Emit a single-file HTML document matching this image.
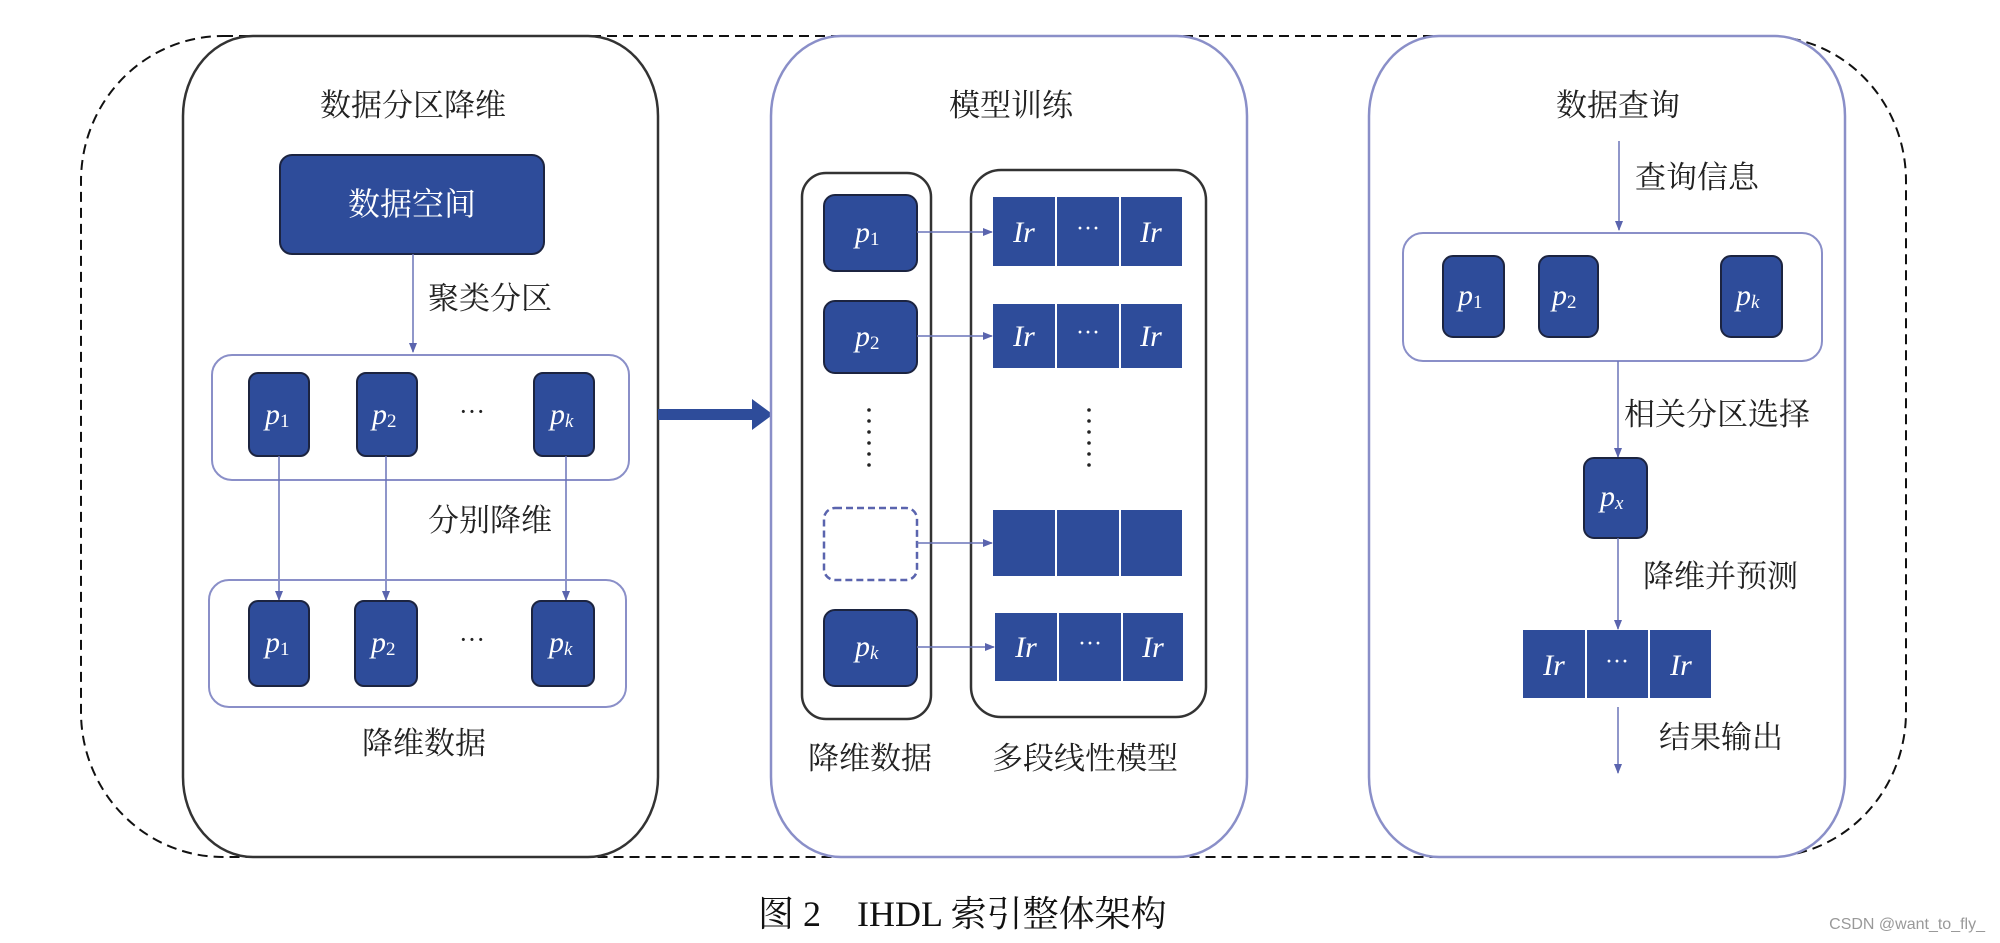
<!DOCTYPE html>
<html><head><meta charset="utf-8"><style>
html,body{margin:0;padding:0;background:#fff;}
svg{display:block;}
.cn{font-family:"Liberation Serif","Noto Serif CJK SC","Noto Sans CJK SC",serif;font-size:31px;fill:#222;}
.pl{font-family:"Liberation Serif",serif;font-style:italic;font-size:30px;fill:#fff;}
.sub{font-size:19px;font-style:normal;}
.subi{font-size:19px;font-style:italic;}
</style></head><body>
<svg width="2000" height="943" viewBox="0 0 2000 943" xmlns="http://www.w3.org/2000/svg">
<defs>
<marker id="ah" markerWidth="10" markerHeight="10" refX="9" refY="5" orient="auto" markerUnits="userSpaceOnUse">
<path d="M0,1 L10,5 L0,9 Z" fill="#5a64ae"/></marker>
</defs>
<!-- outer dashed -->
<path d="M223,36 H1766 A140 145 0 0 1 1906 181 V712 A140 145 0 0 1 1766 857 H223 A142 145 0 0 1 81 712 V181 A142 145 0 0 1 223 36 Z" fill="none" stroke="#111" stroke-width="2" stroke-dasharray="10 6"/>

<!-- Panel 1 -->
<rect x="183" y="36" width="475" height="821" rx="70" ry="80" fill="#fff" stroke="#333" stroke-width="2.5"/>
<text class="cn" x="413" y="116" text-anchor="middle">数据分区降维</text>
<rect x="280" y="155" width="264" height="99" rx="12" fill="#2e4c9a" stroke="#1c2440" stroke-width="2"/>
<text class="cn" x="412" y="215" text-anchor="middle" style="fill:#fff;font-size:32px">数据空间</text>
<line x1="413" y1="254" x2="413" y2="352" stroke="#6a74b8" stroke-width="1.5" marker-end="url(#ah)"/>
<text class="cn" x="428" y="309">聚类分区</text>
<rect x="212" y="355" width="417" height="125" rx="20" fill="none" stroke="#8a8fc8" stroke-width="2"/>
<g>
<rect x="249" y="373" width="60" height="83" rx="9" fill="#2e4c9a" stroke="#1c2440" stroke-width="2"/>
<text class="pl" x="265" y="424">p<tspan class="sub" dy="3">1</tspan></text>
<rect x="357" y="373" width="60" height="83" rx="9" fill="#2e4c9a" stroke="#1c2440" stroke-width="2"/>
<text class="pl" x="372" y="424">p<tspan class="sub" dy="3">2</tspan></text>
<text x="472" y="420" text-anchor="middle" style="font-family:'Liberation Serif',serif;font-size:26px;fill:#222">···</text>
<rect x="534" y="373" width="60" height="83" rx="9" fill="#2e4c9a" stroke="#1c2440" stroke-width="2"/>
<text class="pl" x="550" y="424">p<tspan class="subi" dy="3">k</tspan></text>
</g>
<line x1="279" y1="456" x2="279" y2="600" stroke="#6a74b8" stroke-width="1.5" marker-end="url(#ah)"/>
<line x1="386" y1="456" x2="386" y2="600" stroke="#6a74b8" stroke-width="1.5" marker-end="url(#ah)"/>
<line x1="566" y1="456" x2="566" y2="600" stroke="#6a74b8" stroke-width="1.5" marker-end="url(#ah)"/>
<text class="cn" x="428" y="531">分别降维</text>
<rect x="209" y="580" width="417" height="127" rx="20" fill="none" stroke="#8a8fc8" stroke-width="2"/>
<rect x="249" y="601" width="60" height="85" rx="9" fill="#2e4c9a" stroke="#1c2440" stroke-width="2"/>
<text class="pl" x="265" y="652">p<tspan class="sub" dy="3">1</tspan></text>
<rect x="355" y="601" width="62" height="85" rx="9" fill="#2e4c9a" stroke="#1c2440" stroke-width="2"/>
<text class="pl" x="371" y="652">p<tspan class="sub" dy="3">2</tspan></text>
<text x="472" y="648" text-anchor="middle" style="font-family:'Liberation Serif',serif;font-size:26px;fill:#222">···</text>
<rect x="532" y="601" width="62" height="85" rx="9" fill="#2e4c9a" stroke="#1c2440" stroke-width="2"/>
<text class="pl" x="549" y="652">p<tspan class="subi" dy="3">k</tspan></text>
<text class="cn" x="424" y="754" text-anchor="middle">降维数据</text>

<!-- big arrow -->
<rect x="658" y="409" width="98" height="11" fill="#2e4c9a"/>
<path d="M752,399 L773,414.5 L752,430 Z" fill="#2e4c9a"/>

<!-- Panel 2 -->
<rect x="771" y="36" width="476" height="821" rx="70" ry="80" fill="#fff" stroke="#8a8fc8" stroke-width="2.5"/>
<text class="cn" x="1011" y="116" text-anchor="middle">模型训练</text>
<rect x="802" y="173" width="129" height="546" rx="24" fill="none" stroke="#333" stroke-width="2.5"/>
<rect x="971" y="170" width="235" height="547" rx="30" fill="none" stroke="#333" stroke-width="2.5"/>
<rect x="824" y="195" width="93" height="76" rx="11" fill="#2e4c9a" stroke="#1c2440" stroke-width="2"/>
<text class="pl" x="855" y="242">p<tspan class="sub" dy="3">1</tspan></text>
<rect x="824" y="301" width="93" height="72" rx="11" fill="#2e4c9a" stroke="#1c2440" stroke-width="2"/>
<text class="pl" x="855" y="346">p<tspan class="sub" dy="3">2</tspan></text>
<rect x="824" y="508" width="93" height="72" rx="11" fill="#fff" stroke="#5a64ae" stroke-width="2.5" stroke-dasharray="7 4"/>
<rect x="824" y="610" width="93" height="76" rx="11" fill="#2e4c9a" stroke="#1c2440" stroke-width="2"/>
<text class="pl" x="855" y="656">p<tspan class="subi" dy="3">k</tspan></text>
<g fill="#222">
<circle cx="869" cy="410" r="1.8"/><circle cx="869" cy="421" r="1.8"/><circle cx="869" cy="432" r="1.8"/><circle cx="869" cy="443" r="1.8"/><circle cx="869" cy="454" r="1.8"/><circle cx="869" cy="465" r="1.8"/>
<circle cx="1089" cy="410" r="1.8"/><circle cx="1089" cy="421" r="1.8"/><circle cx="1089" cy="432" r="1.8"/><circle cx="1089" cy="443" r="1.8"/><circle cx="1089" cy="454" r="1.8"/><circle cx="1089" cy="465" r="1.8"/>
</g>
<g fill="#2e4c9a">
<rect x="993" y="197" width="62" height="69"/><rect x="1057" y="197" width="62" height="69"/><rect x="1121" y="197" width="61" height="69"/>
<rect x="993" y="304" width="62" height="64"/><rect x="1057" y="304" width="62" height="64"/><rect x="1121" y="304" width="61" height="64"/>
<rect x="993" y="510" width="62" height="66"/><rect x="1057" y="510" width="62" height="66"/><rect x="1121" y="510" width="61" height="66"/>
<rect x="995" y="613" width="62" height="68"/><rect x="1059" y="613" width="62" height="68"/><rect x="1123" y="613" width="60" height="68"/>
</g>
<g class="pl">
<text x="1024" y="242" text-anchor="middle">Ir</text><text x="1088" y="236" text-anchor="middle" style="font-style:normal;font-size:24px">···</text><text x="1151" y="242" text-anchor="middle">Ir</text>
<text x="1024" y="346" text-anchor="middle">Ir</text><text x="1088" y="340" text-anchor="middle" style="font-style:normal;font-size:24px">···</text><text x="1151" y="346" text-anchor="middle">Ir</text>
<text x="1026" y="657" text-anchor="middle">Ir</text><text x="1090" y="651" text-anchor="middle" style="font-style:normal;font-size:24px">···</text><text x="1153" y="657" text-anchor="middle">Ir</text>
</g>
<line x1="917" y1="232" x2="992" y2="232" stroke="#6a74b8" stroke-width="1.5" marker-end="url(#ah)"/>
<line x1="917" y1="336" x2="992" y2="336" stroke="#6a74b8" stroke-width="1.5" marker-end="url(#ah)"/>
<line x1="917" y1="543" x2="992" y2="543" stroke="#6a74b8" stroke-width="1.5" marker-end="url(#ah)"/>
<line x1="917" y1="647" x2="994" y2="647" stroke="#6a74b8" stroke-width="1.5" marker-end="url(#ah)"/>
<text class="cn" x="870" y="769" text-anchor="middle">降维数据</text>
<text class="cn" x="1085" y="769" text-anchor="middle">多段线性模型</text>

<!-- Panel 3 -->
<rect x="1369" y="36" width="476" height="821" rx="70" ry="80" fill="#fff" stroke="#8a8fc8" stroke-width="2.5"/>
<text class="cn" x="1618" y="116" text-anchor="middle">数据查询</text>
<line x1="1619" y1="141" x2="1619" y2="230" stroke="#6a74b8" stroke-width="1.5" marker-end="url(#ah)"/>
<text class="cn" x="1635" y="188">查询信息</text>
<rect x="1403" y="233" width="419" height="128" rx="20" fill="none" stroke="#8a8fc8" stroke-width="2"/>
<rect x="1443" y="256" width="61" height="81" rx="10" fill="#2e4c9a" stroke="#1c2440" stroke-width="2"/>
<text class="pl" x="1458" y="305">p<tspan class="sub" dy="3">1</tspan></text>
<rect x="1539" y="256" width="59" height="81" rx="10" fill="#2e4c9a" stroke="#1c2440" stroke-width="2"/>
<text class="pl" x="1552" y="305">p<tspan class="sub" dy="3">2</tspan></text>
<rect x="1721" y="256" width="61" height="81" rx="10" fill="#2e4c9a" stroke="#1c2440" stroke-width="2"/>
<text class="pl" x="1736" y="305">p<tspan class="subi" dy="3">k</tspan></text>
<line x1="1618" y1="361" x2="1618" y2="457" stroke="#6a74b8" stroke-width="1.5" marker-end="url(#ah)"/>
<text class="cn" x="1624" y="425">相关分区选择</text>
<rect x="1584" y="458" width="63" height="80" rx="10" fill="#2e4c9a" stroke="#1c2440" stroke-width="2"/>
<text class="pl" x="1600" y="506">p<tspan class="subi" dy="3">x</tspan></text>
<line x1="1618" y1="538" x2="1618" y2="629" stroke="#6a74b8" stroke-width="1.5" marker-end="url(#ah)"/>
<text class="cn" x="1643" y="587">降维并预测</text>
<g fill="#2e4c9a">
<rect x="1523" y="630" width="62" height="68"/><rect x="1587" y="630" width="61" height="68"/><rect x="1650" y="630" width="61" height="68"/>
</g>
<g class="pl">
<text x="1554" y="675" text-anchor="middle">Ir</text><text x="1617" y="669" text-anchor="middle" style="font-style:normal;font-size:24px">···</text><text x="1681" y="675" text-anchor="middle">Ir</text>
</g>
<line x1="1618" y1="707" x2="1618" y2="773" stroke="#6a74b8" stroke-width="1.5" marker-end="url(#ah)"/>
<text class="cn" x="1659" y="748">结果输出</text>

<!-- caption -->
<text x="758" y="926" style="font-family:'Liberation Serif','Noto Serif CJK SC',serif;font-size:36px;fill:#111">图 2　IHDL 索引整体架构</text>
<text x="1985" y="929" text-anchor="end" style="font-family:'Liberation Sans',sans-serif;font-size:16px;fill:#999">CSDN @want_to_fly_</text>
</svg>
</body></html>
